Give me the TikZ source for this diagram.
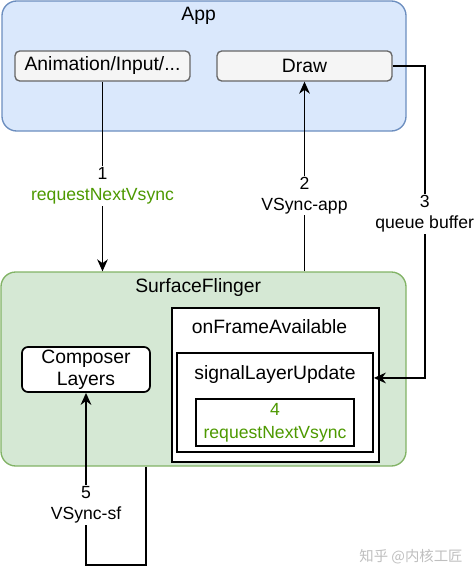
\documentclass[tikz,border=0pt]{standalone}
\usepackage{fontspec}
\setmainfont{Liberation Sans}
\newfontfamily\cjk{Noto Sans CJK SC}
\usetikzlibrary{arrows.meta}
\definecolor{appfill}{HTML}{DAE8FC}
\definecolor{appline}{HTML}{6C8EBF}
\definecolor{sffill}{HTML}{D5E8D4}
\definecolor{sfline}{HTML}{82B366}
\definecolor{callgreen}{HTML}{4D9900}
\tikzset{
  bigbox/.style={draw, rounded corners=11pt, line width=1pt, inner sep=0pt},
  grayitem/.style={draw=black!60, fill=black!4, rounded corners=3.5pt, line width=1pt,
    inner sep=0pt, font=\fontsize{14.5}{16}\selectfont},
  plainbox/.style={draw, fill=white, line width=1.3pt, inner sep=0pt, align=center},
  flow/.style={line width=1.4pt, -{Stealth[length=9pt,width=8pt]}},
  lbl/.style={fill=white, inner sep=1pt, align=center, font=\fontsize{13.2}{15.75}\selectfont},
  title/.style={font=\fontsize{14.5}{16}\selectfont}
}
\begin{document}
\begin{tikzpicture}[x=0.75pt, y=-0.75pt]
      \useasboundingbox (0,0) rectangle (474,578);

      % App side
      \node[bigbox, draw=appline, fill=appfill, minimum width=303pt, minimum height=97.5pt] (app) at (204,66) {};
      \node[title] (apptitle) at ([xshift=-4pt, yshift=-12pt]app.north) {App};
      \node[grayitem, minimum width=131.25pt, minimum height=22.5pt] (anim) at (102.5,66) {Animation/Input/...};
      \node[grayitem, minimum width=131.25pt, minimum height=22.5pt] (draw) at (304.5,66) {Draw};

      % SurfaceFlinger side
      \node[bigbox, draw=sfline, fill=sffill, minimum width=303.75pt, minimum height=145.5pt] (sf) at (203.5,369) {};
      \node[title] (sftitle) at ([xshift=-4pt, yshift=-12pt]sf.north) {SurfaceFlinger};
      \node[plainbox, minimum width=155.25pt, minimum height=115.5pt] (ofa) at (275.5,385) {};
      \node[title] (ofatitle) at ([xshift=-4.5pt, yshift=-14.25pt]ofa.north) {onFrameAvailable};
      \node[plainbox, minimum width=147pt, minimum height=74.25pt] (slu) at (275,402.5) {};
      \node[title] (slutitle) at ([yshift=-17pt]slu.north) {signalLayerUpdate};
      \node[plainbox, line width=1.1pt, minimum width=118.5pt, minimum height=35.25pt,
        text=callgreen, font=\fontsize{13.2}{17}\selectfont] (rnv) at (275,422.5) {4\\requestNextVsync};
      \node[plainbox, rounded corners=4.5pt, minimum width=96pt, minimum height=33.75pt,
        font=\fontsize{14.5}{16.5}\selectfont] (comp) at (86,369.5) {Composer\\Layers};

      % Connectors
      \draw[flow] (anim.south) -- node[lbl, pos=0.55] {1\\\textcolor{callgreen}{requestNextVsync}} (anim.south |- sf.north);
      \draw[flow] (draw.south |- sf.north) -- node[lbl, pos=0.4] {2\\VSync-app} (draw.south);
      \draw[flow] (draw.east) -- ++(32,0) |- node[lbl, pos=0.237] {3\\queue buffer} ([yshift=18.4pt]slu.east);
      \draw[flow] ([xshift=-43pt]sf.south) -- ++(0,98) -| node[lbl, pos=0.674] {5\\VSync-sf} (comp.south);

      % Watermark
      \node[text=black!25, font=\cjk\fontsize{10.8}{12}\selectfont] (mark) at (411,557) {知乎 @内核工匠};
\end{tikzpicture}
\end{document}
